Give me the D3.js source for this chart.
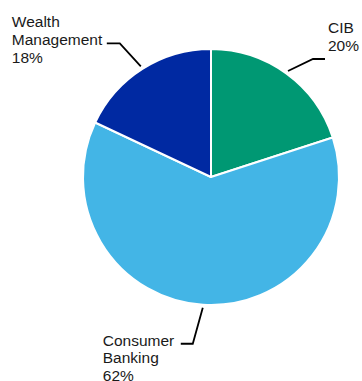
<!DOCTYPE html>
<html lang="en">
<head>
    <meta charset="UTF-8">
    <title>Segment pie</title>
    <style>
        body { margin: 0; background: #fff; }
        text { font-family: "Liberation Sans", Arial, sans-serif; font-size: 15.5px; fill: #1a1a1a; }
    </style>
</head>
<body>
<script src='https://d3js.org/d3.v7.min.js' type='text/javascript'></script>
<script>
    // data
    var segments = ['CIB', 'Consumer Banking', 'Wealth Management'];
    var shares = [20, 62, 18];
    var labelLines = [['CIB', '20%'], ['Consumer', 'Banking', '62%'], ['Wealth', 'Management', '18%']];
    var colors = ['#009873', '#43b5e6', '#0029a2'];

    const width = 362;
    const height = 381;
    const cx = 211, cy = 177, radius = 128;

    var svg = d3.select('body').append('svg')
        .attr('width', width)
        .attr('height', height);

    var pie = d3.pie().sort(null).value(function (d) { return d; });
    var arcs = pie(shares);
    var arc = d3.arc().innerRadius(0).outerRadius(radius);
    var color = d3.scaleOrdinal().domain(segments).range(colors);

    var g = svg.append('g').attr('transform', 'translate(' + cx + ',' + cy + ')');

    g.selectAll('path')
        .data(arcs)
        .enter()
        .append('path')
        .attr('d', arc)
        .attr('fill', function (d, i) { return color(segments[i]); })
        .attr('stroke', '#fff')
        .attr('stroke-width', 2)
        .attr('stroke-linejoin', 'round');

    // leader lines: start on the slice's mid angle, bend, then run flat
    var bend = [[25, -12], [-10, 36], [-21, -23]];
    var flat = [12, -12, -13];
    // label box: offset from the end of the flat part, and line spacing
    var textOff = [[3, -26], [-78, 2], [-95, -16]];
    var lineH = 17.6;

    arcs.forEach(function (d, i) {
        var mid = (d.startAngle + d.endAngle) / 2;
        var r0 = radius + 3;
        var x0 = Math.sin(mid) * r0, y0 = -Math.cos(mid) * r0;
        var x1 = x0 + bend[i][0], y1 = y0 + bend[i][1];
        var x2 = x1 + flat[i];
        g.append('path')
            .attr('d', d3.line()([[x0, y0], [x1, y1], [x2, y1]]))
            .attr('fill', 'none')
            .attr('stroke', '#000')
            .attr('stroke-width', 1.8);

        var t = g.append('text')
            .attr('x', x2 + textOff[i][0])
            .attr('y', y1 + textOff[i][1]);
        labelLines[i].forEach(function (s, k) {
            t.append('tspan')
                .attr('x', x2 + textOff[i][0])
                .attr('dy', k === 0 ? 0 : lineH)
                .text(s);
        });
    });
</script>
</body>
</html>
